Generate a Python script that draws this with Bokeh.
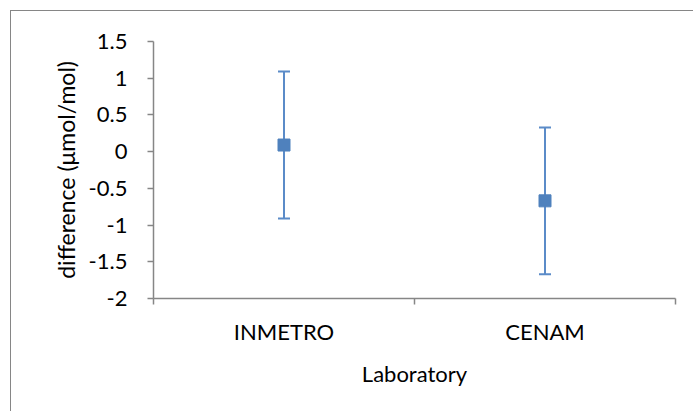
from bokeh.plotting import figure
from bokeh.models import ColumnDataSource, FixedTicker, Whisker, TeeHead, Range1d
from bokeh.embed import file_html
from bokeh.resources import INLINE

# ---- data ----
labs = ["INMETRO", "CENAM"]
diffs = [0.09, -0.67]
uncs = [1.0, 1.0]
yticks = [-2, -1.5, -1, -0.5, 0, 0.5, 1, 1.5]
ytick_labels = ["-2", "-1.5", "-1", "-0.5", "0", "0.5", "1", "1.5"]

FONT = "Lato"
GRAY = "#868686"
BLUE = "#4F81BD"

xs = [i + 0.5 for i in range(len(labs))]
src = ColumnDataSource(dict(
    x=xs, y=diffs,
    upper=[d + u for d, u in zip(diffs, uncs)],
    lower=[d - u for d, u in zip(diffs, uncs)],
))

p = figure(width=683, height=401, output_backend="svg", toolbar_location=None,
           x_range=Range1d(0, len(labs)), y_range=Range1d(-2, 1.5),
           min_border_left=142, min_border_right=19, min_border_top=30, min_border_bottom=114,
           margin=(10, 0, 0, 10))
p.styles = {"border-left": "1px solid " + GRAY, "border-top": "1px solid " + GRAY}
p.outline_line_color = None
p.xgrid.visible = False
p.ygrid.visible = False
p.background_fill_color = "white"
p.border_fill_color = "white"

# error bars
w = Whisker(source=src, base="x", upper="upper", lower="lower",
            line_color="#5B8BC8", line_width=2,
            upper_head=TeeHead(size=12, line_color="#5B8BC8", line_width=2),
            lower_head=TeeHead(size=12, line_color="#5B8BC8", line_width=2))
p.add_layout(w)
p.scatter("x", "y", source=src, marker="square", size=12, fill_color=BLUE, line_color=BLUE)

# x axis
xa = p.xaxis[0]
xa.ticker = FixedTicker(ticks=xs, minor_ticks=list(range(len(labs) + 1)))
xa.major_label_overrides = {x: l for x, l in zip(xs, labs)}
xa.major_tick_line_color = None
xa.major_tick_out = 0
xa.major_tick_in = 0
xa.minor_tick_line_color = GRAY
xa.minor_tick_out = 6
xa.minor_tick_in = 0
xa.axis_line_color = GRAY
xa.axis_line_width = 1.5
xa.minor_tick_line_width = 1.5
xa.major_label_standoff = 13
xa.major_label_text_font = FONT
xa.major_label_text_font_size = "22px"
xa.major_label_text_color = "black"
xa.axis_label = "Laboratory"
xa.axis_label_text_font = FONT
xa.axis_label_text_font_size = "22px"
xa.axis_label_text_font_style = "normal"
xa.axis_label_text_color = "black"
xa.axis_label_standoff = 12

# y axis
ya = p.yaxis[0]
ya.ticker = FixedTicker(ticks=yticks, minor_ticks=[])
ya.major_label_overrides = {t: l for t, l in zip(yticks, ytick_labels)}
ya.major_tick_line_color = GRAY
ya.major_tick_line_width = 1.5
ya.major_tick_out = 6
ya.major_tick_in = 0
ya.axis_line_color = GRAY
ya.axis_line_width = 1.5
ya.major_label_standoff = 20
ya.major_label_text_font = FONT
ya.major_label_text_font_size = "22px"
ya.major_label_text_color = "black"
ya.axis_label = "difference (μmol/mol)"
ya.axis_label_text_font = FONT
ya.axis_label_text_font_size = "23px"
ya.axis_label_text_font_style = "normal"
ya.axis_label_text_color = "black"
ya.axis_label_standoff = 6

open("out.html", "w").write(file_html(p, INLINE))
